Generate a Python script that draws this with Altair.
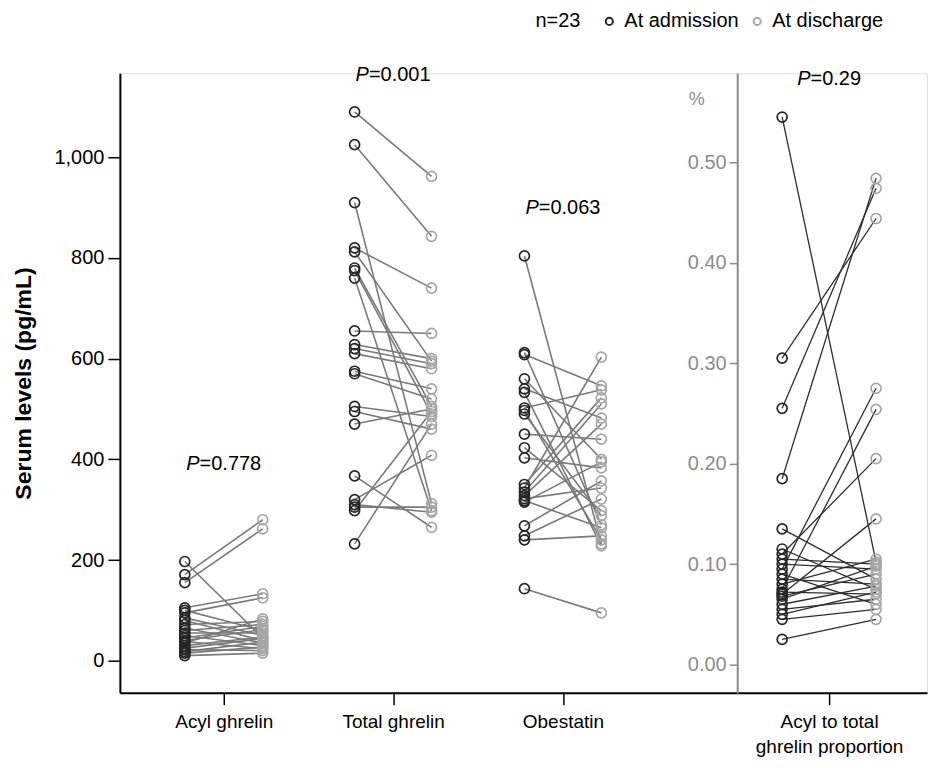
import json
import altair as alt
import pandas as pd

groups = ["Acyl ghrelin", "Total ghrelin", "Obestatin"]
statuses = ["At admission", "At discharge"]

acyl_adm = [197, 171, 155, 105, 100, 95, 85, 80, 72, 65, 60, 55, 50, 45, 40, 38, 35, 30, 25, 22, 18, 15, 10]
acyl_dis = [45, 280, 262, 133, 60, 125, 50, 40, 78, 35, 72, 55, 30, 68, 62, 24, 83, 47, 44, 20, 37, 27, 15]

total_adm = [1090, 1025, 910, 820, 812, 780, 775, 760, 655, 628, 620, 610, 575, 570, 505, 495, 470, 367, 320, 310, 305, 298, 232]
total_dis = [962, 843, 312, 740, 595, 505, 490, 298, 650, 600, 590, 580, 540, 520, 485, 460, 500, 265, 408, 295, 305, 495, 470]

obes_adm = [804, 612, 608, 560, 540, 533, 502, 497, 490, 450, 423, 403, 350, 343, 335, 328, 322, 318, 315, 268, 248, 240, 143]
obes_dis = [232, 270, 546, 400, 482, 228, 538, 240, 288, 440, 298, 383, 522, 603, 510, 470, 343, 264, 395, 357, 321, 248, 95]

ratio_adm = [0.545, 0.305, 0.255, 0.185, 0.135, 0.115, 0.11, 0.105, 0.10, 0.095, 0.09, 0.085, 0.08, 0.075,
             0.072, 0.07, 0.068, 0.065, 0.06, 0.055, 0.05, 0.045, 0.025]
ratio_dis = [0.102, 0.444, 0.474, 0.484, 0.085, 0.075, 0.205, 0.10, 0.095, 0.275, 0.06, 0.08, 0.105, 0.254,
             0.07, 0.145, 0.09, 0.098, 0.078, 0.065, 0.072, 0.055, 0.045]

p_texts = ["=0.778", "=0.001", "=0.063"]
p_heights = [391, 1163, 899]
ratio_name = ["Acyl to total", "ghrelin proportion"]
ratio_p_text = "=0.29"
ratio_p_height = 0.5825
n_label = "n=23"

FONT = "Liberation Sans"
ADM_COLOR = "#262626"
DIS_COLOR = "#a6a6a6"
GREY = "#8c8c8c"

rows = []
for gi, (g, adm, dis) in enumerate(zip(groups, [acyl_adm, total_adm, obes_adm], [acyl_dis, total_dis, obes_dis])):
    for i, (a, d) in enumerate(zip(adm, dis)):
        rows.append(dict(pair=f"{g}-{i}", status=statuses[0], slot=gi * 2, value=a))
        rows.append(dict(pair=f"{g}-{i}", status=statuses[1], slot=gi * 2 + 1, value=d))
left_df = pd.DataFrame(rows)

ptab = pd.DataFrame({"slot": [gi * 2 + 0.5 for gi in range(len(groups))], "value": p_heights, "txt": p_texts})

rrows = []
for i, (a, d) in enumerate(zip(ratio_adm, ratio_dis)):
    rrows.append(dict(pair=f"r-{i}", status=statuses[0], slot=0, value=a))
    rrows.append(dict(pair=f"r-{i}", status=statuses[1], slot=1, value=d))
right_df = pd.DataFrame(rrows)
rptab = pd.DataFrame({"slot": [0.5], "value": [ratio_p_height], "txt": [ratio_p_text]})

# ---------- left panel ----------
lx_scale = alt.Scale(domain=[-1, 0, 1, 2, 3, 4, 5, 6], range=[0, 65, 143, 235, 312, 405, 482, 618], nice=False, zero=False)
ly_scale = alt.Scale(domain=[-63.5, 1166.7], nice=False, zero=False)

lx_axis = alt.Axis(values=[0.5, 2.5, 4.5], labelExpr=json.dumps(groups) + "[floor(datum.value / 2)]",
                   title=None, grid=False, domainColor="black", domainWidth=2, tickColor="black",
                   tickWidth=1.5, tickSize=12, labelFontSize=19, labelPadding=8, labelColor="black", labelFont=FONT)
ly_axis = alt.Axis(values=[0, 200, 400, 600, 800, 1000], format=",d", title="Serum levels (pg/mL)",
                   titleFontSize=23, titleFontWeight="bold", titlePadding=18, titleFont=FONT, titleColor="black",
                   labelFontSize=20, labelFont=FONT, labelColor="black", labelPadding=4, tickSize=12, tickWidth=1.5,
                   tickColor="black", domainColor="black", domainWidth=2, grid=False)

lbase = alt.Chart(left_df)
llines = lbase.mark_line(color="#7a7a7a", strokeWidth=1.6).encode(
    x=alt.X("slot:Q", scale=lx_scale, axis=lx_axis),
    y=alt.Y("value:Q", scale=ly_scale, axis=ly_axis),
    detail="pair:N",
    order="slot:Q",
)
lpoints = lbase.mark_point(filled=False, size=100, strokeWidth=1.7, opacity=1).encode(
    x=alt.X("slot:Q", scale=lx_scale),
    y=alt.Y("value:Q", scale=ly_scale),
    stroke=alt.Stroke("status:N", scale=alt.Scale(domain=statuses, range=[ADM_COLOR, DIS_COLOR]),
                      legend=alt.Legend(title=n_label, titleOrient="left", orient="none", legendX=416, legendY=-62,
                                        direction="horizontal", symbolType="circle", symbolSize=50,
                                        symbolStrokeWidth=2, labelFontSize=20, titleFontSize=20,
                                        titleFontWeight="normal", titlePadding=18, labelFont=FONT, titleFont=FONT,
                                        labelColor="black", titleColor="black", columnPadding=8, labelOffset=5)),
)
lp_italic = alt.Chart(ptab).mark_text(text="P", fontStyle="italic", align="right", dx=-24.2, fontSize=20,
                                      font=FONT, color="black").encode(
    x=alt.X("slot:Q", scale=lx_scale), y=alt.Y("value:Q", scale=ly_scale))
lp_rest = alt.Chart(ptab).mark_text(align="left", dx=-24.2, fontSize=20, font=FONT, color="black").encode(
    x=alt.X("slot:Q", scale=lx_scale), y=alt.Y("value:Q", scale=ly_scale), text="txt:N")

left = alt.layer(llines, lpoints, lp_italic, lp_rest).properties(width=618, height=620)

# ---------- right panel ----------
rx_scale = alt.Scale(domain=[-1, 0, 1, 2], range=[0, 45, 139, 190], nice=False, zero=False)
ry_scale = alt.Scale(domain=[-0.028, 0.5885], nice=False, zero=False)
rx_axis = alt.Axis(values=[0.5], labelExpr=json.dumps(ratio_name), title=None, grid=False, domainColor="black",
                   domainWidth=2, tickColor="black", tickWidth=1.5, tickSize=12, labelFontSize=19, labelPadding=8,
                   labelColor="black", labelFont=FONT, labelLineHeight=25)
ry_axis = alt.Axis(values=[0, 0.1, 0.2, 0.3, 0.4, 0.5], format=".2f", title="%", titleAngle=0, titleX=-41,
                   titleY=26, titleAlign="center", titleBaseline="middle", titleColor=GREY, titleFontSize=18,
                   titleFontWeight="normal", titleFont=FONT, labelFontSize=20, labelFont=FONT, labelColor=GREY,
                   labelPadding=3, tickSize=8, tickWidth=1.5, tickColor=GREY, domainColor=GREY, domainWidth=2,
                   grid=False)

rbase = alt.Chart(right_df)
rlines = rbase.mark_line(color="#2e2e2e", strokeWidth=1.3).encode(
    x=alt.X("slot:Q", scale=rx_scale, axis=rx_axis),
    y=alt.Y("value:Q", scale=ry_scale, axis=ry_axis),
    detail="pair:N",
    order="slot:Q",
)
rpoints = rbase.mark_point(filled=False, size=100, strokeWidth=1.7, opacity=1).encode(
    x=alt.X("slot:Q", scale=rx_scale),
    y=alt.Y("value:Q", scale=ry_scale),
    stroke=alt.Stroke("status:N", scale=alt.Scale(domain=statuses, range=[ADM_COLOR, DIS_COLOR]), legend=None),
)
rp_italic = alt.Chart(rptab).mark_text(text="P", fontStyle="italic", align="right", dx=-18.6, fontSize=20,
                                       font=FONT, color="black").encode(
    x=alt.X("slot:Q", scale=rx_scale), y=alt.Y("value:Q", scale=ry_scale))
rp_rest = alt.Chart(rptab).mark_text(align="left", dx=-18.6, fontSize=20, font=FONT, color="black").encode(
    x=alt.X("slot:Q", scale=rx_scale), y=alt.Y("value:Q", scale=ry_scale), text="txt:N")

right = alt.layer(rlines, rpoints, rp_italic, rp_rest).properties(width=190, height=620)

chart = alt.hconcat(left, right, spacing=0, bounds="flush").resolve_legend(stroke="independent").properties(
    padding={"left": 4, "top": 2, "right": 0, "bottom": 0}
).configure_view(stroke=None, strokeWidth=0).configure(font=FONT)

chart.save("out.html", embed_options={"renderer": "svg", "actions": False})
